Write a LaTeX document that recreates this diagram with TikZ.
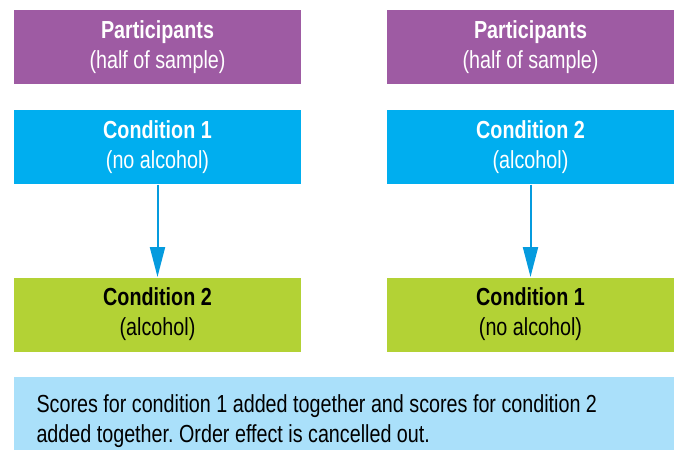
\documentclass[tikz,border=0pt]{standalone}
\usepackage{fontspec}
\setmainfont{Liberation Sans}[FakeStretch=0.8]
\usetikzlibrary{arrows.meta}
\frenchspacing

\definecolor{purplebox}{RGB}{158,91,163}
\definecolor{bluebox}{RGB}{0,174,239}
\definecolor{greenbox}{RGB}{179,210,53}
\definecolor{notebox}{RGB}{170,224,250}
\definecolor{arrowblue}{RGB}{5,155,222}

\tikzset{every picture/.style={line width=0.75pt}}
\tikzset{
  box/.style={minimum width=215.25pt, minimum height=55.5pt, inner sep=0pt,
    align=center, font=\fontsize{18.5}{22.5}\selectfont},
  partbox/.style={box, fill=purplebox, text=white},
  condbox/.style={box, fill=bluebox, text=white},
  nextbox/.style={box, fill=greenbox, text=black},
  flow/.style={draw=arrowblue, line width=1.5pt, -{Triangle[width=11.25pt,length=22.5pt]}}
}

\begin{document}
\begin{tikzpicture}[x=0.75pt,y=0.75pt,yscale=-1,xscale=1]
\useasboundingbox (0,0) rectangle (674,450);

% Left column
\node [partbox] (partL) at (157.5,47) {\textbf{Participants}\\(half of sample)};
\node [condbox] (condL) at (157.5,147) {\textbf{Condition 1}\\(no alcohol)};
\node [nextbox] (nextL) at (157.5,314.5) {\textbf{Condition 2}\\(alcohol)};

% Right column
\node [partbox] (partR) at (530.5,47) {\textbf{Participants}\\(half of sample)};
\node [condbox] (condR) at (530.5,147) {\textbf{Condition 2}\\(alcohol)};
\node [nextbox] (nextR) at (530.5,314.5) {\textbf{Condition 1}\\(no alcohol)};

% Arrows
\draw [flow] (condL) -- (nextL);
\draw [flow] (condR) -- (nextR);

% Summary
\node [fill=notebox, minimum width=495pt, minimum height=55pt, inner sep=0pt] (note) at (344,413.5) {};
\node [anchor=west, align=left, font=\fontsize{18.5}{22.5}\selectfont, inner sep=0pt] (notetext) at (36,421)
  {Scores for condition 1 added together and scores for condition 2\\added together. Order effect is cancelled out.};

\end{tikzpicture}
\end{document}
